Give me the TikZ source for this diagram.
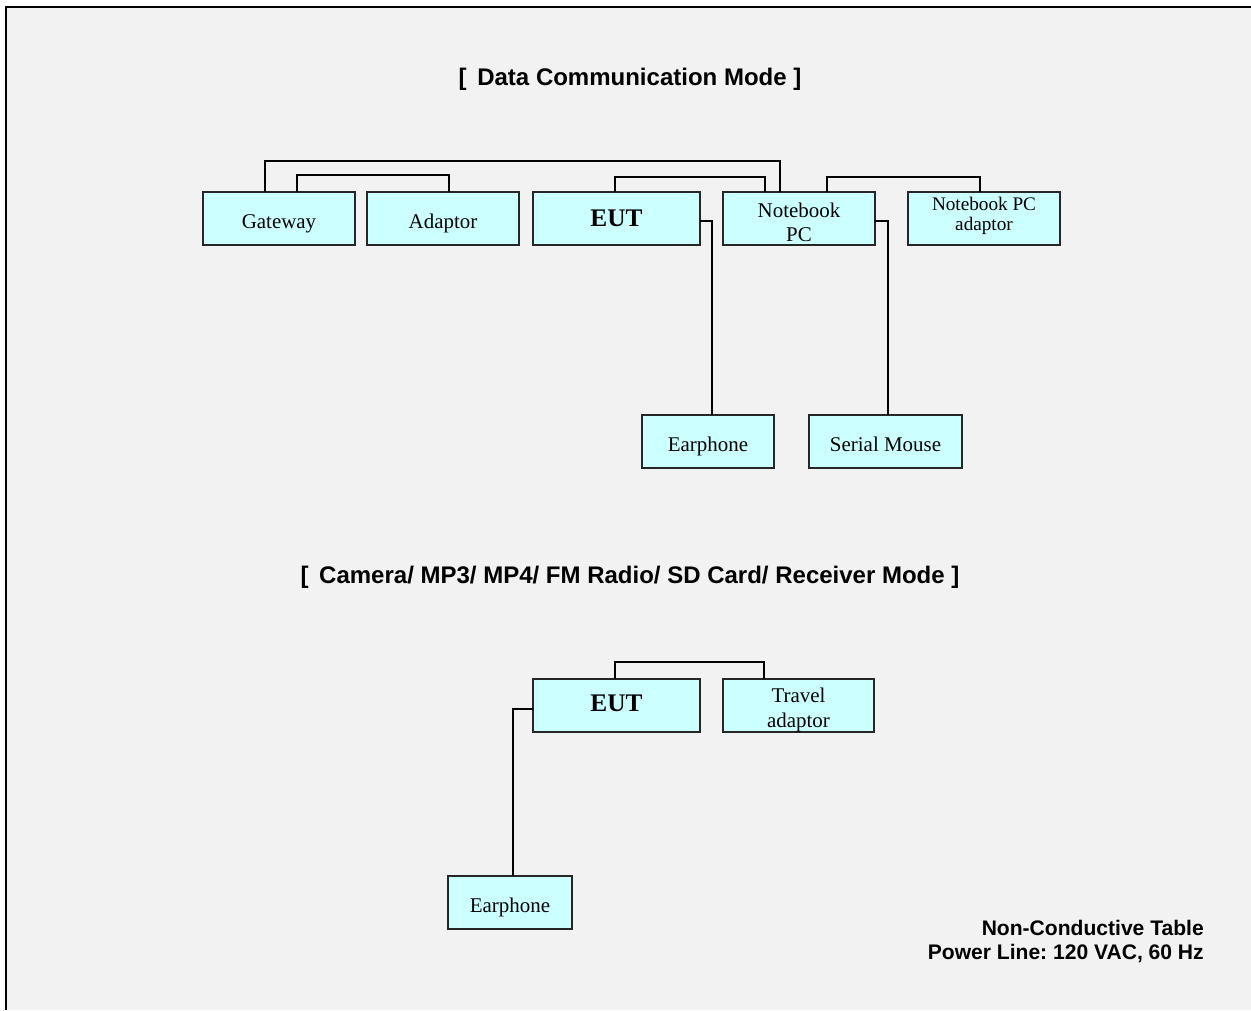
\documentclass[tikz,border=0pt]{standalone}
\usepackage{fontspec}
\setmainfont{Liberation Serif}
\setsansfont{Liberation Sans}
\definecolor{boxfill}{HTML}{CCFFFF}
\definecolor{bgfill}{HTML}{F2F2F2}
\frenchspacing
\begin{document}
\begin{tikzpicture}[x=0.75pt,y=-0.75pt,
  box/.style={draw=black!85,line width=0.9pt,fill=boxfill,inner sep=0pt,outer sep=0pt,
    minimum height=39.75pt},
  w152/.style={minimum width=114pt},
  w167/.style={minimum width=125.25pt},
  lbl/.style={inner sep=0pt,align=center,font=\fontsize{15.7}{18}\selectfont},
  one/.style={lbl,text height=10.8pt,text depth=3.4pt,yshift=-3.6pt},
  eutlbl/.style={lbl,font=\bfseries\fontsize{19}{22}\selectfont},
  wire/.style={draw=black,line width=1.5pt},
  titletext/.style={font=\sffamily\bfseries\fontsize{18}{21}\selectfont,inner sep=0pt},
  notetext/.style={font=\sffamily\bfseries\fontsize{15.8}{18}\selectfont,inner sep=0pt,align=right,anchor=east},
  ]
\useasboundingbox (0,0) rectangle (1251,1010);
\fill[bgfill] (6,7) rectangle (1251,1010);
\draw[line width=1.5pt] (6,1010) -- (6,7) -- (1251,7);

% titles
\node[titletext] (t1) at (630,79) {[\, Data Communication Mode ]};
\node[titletext] (t2) at (630,577) {[\, Camera/ MP3/ MP4/ FM Radio/ SD Card/ Receiver Mode ]};

% top diagram
\node[box,w152,label={[one]center:Gateway}] (gw) at (279,218.5) {};
\node[box,w152,label={[one]center:Adaptor}] (ad) at (443,218.5) {};
\node[box,w167,label={[eutlbl]center:EUT}] (eut1) at (616.5,218.5) {};
\node[box,w152,label={[lbl,yshift=-3pt]center:Notebook\\PC}] (nb) at (799,218.5) {};
\node[box,w152,label={[lbl,font=\fontsize{14.4}{15}\selectfont,yshift=2.25pt]center:Notebook PC\\adaptor}] (nba) at (984,218.5) {};
\node[box,minimum width=99pt,label={[one]center:Earphone}] (ear1) at (708,441.5) {};
\node[box,minimum width=114.75pt,label={[one]center:Serial Mouse}] (sm) at (885.5,441.5) {};

\draw[wire] (265,0 |- gw.north) |- (780,161) -- (780,0 |- nb.north);
\draw[wire] (297,0 |- gw.north) |- (449,175) -- (449,0 |- ad.north);
\draw[wire] (615,0 |- eut1.north) |- (765,177) -- (765,0 |- nb.north);
\draw[wire] (827,0 |- nb.north) |- (980,177) -- (980,0 |- nba.north);
\draw[wire] (eut1.east |- 0,221) -| (712,0 |- ear1.north);
\draw[wire] (nb.east |- 0,221) -| (888,0 |- sm.north);

% bottom diagram
\node[box,w167,label={[eutlbl,yshift=1.5pt]center:EUT}] (eut2) at (616.5,705.5) {};
\node[box,minimum width=113.25pt,label={[lbl,font=\fontsize{15.7}{18.75}\selectfont,yshift=-3.6pt]center:Travel\\adaptor}] (ta) at (798.5,705.5) {};
\node[box,minimum width=93pt,label={[one]center:Earphone}] (ear2) at (510,902.5) {};

\draw[wire] (615,0 |- eut2.north) |- (764,662) -- (764,0 |- ta.north);
\draw[wire] (eut2.west |- 0,709) -| (513,0 |- ear2.north);

% notes
\node[notetext] (note) at (1204,941) {Non-Conductive Table\\Power Line: 120 VAC, 60 Hz};
\end{tikzpicture}
\end{document}
